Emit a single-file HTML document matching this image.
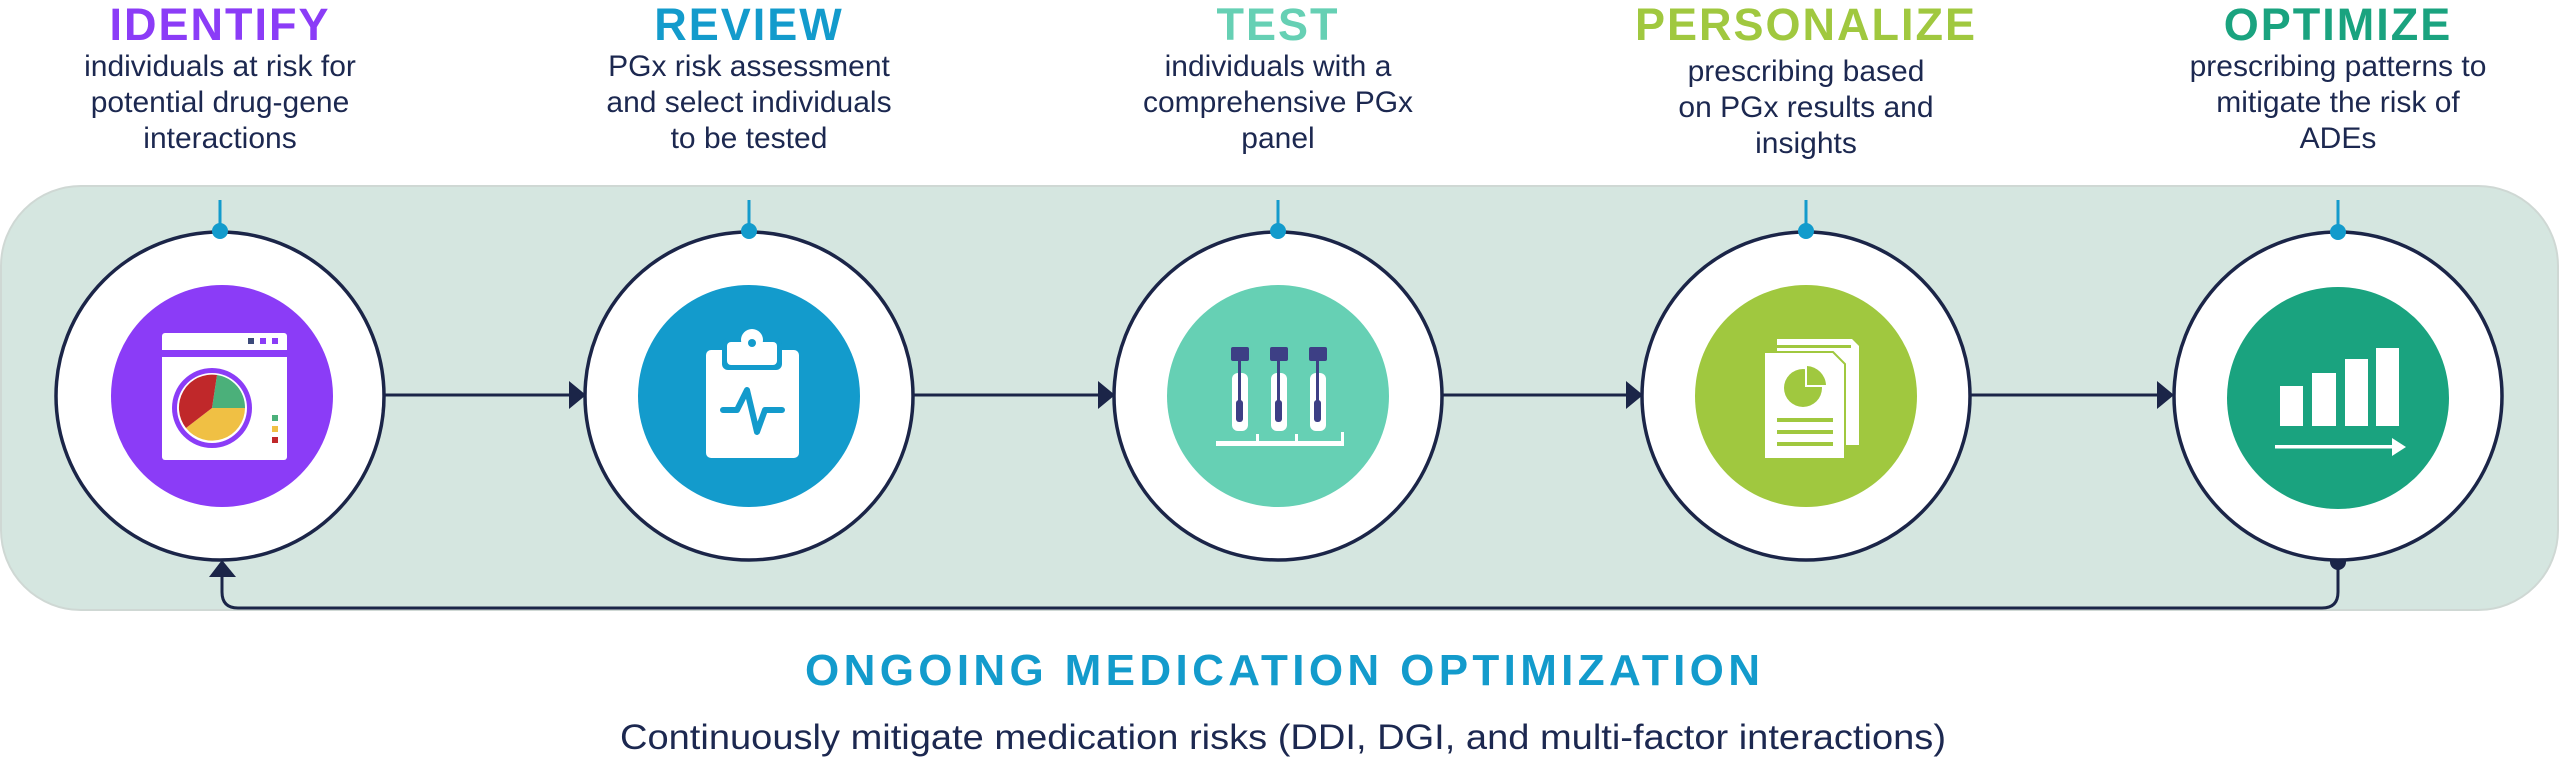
<!DOCTYPE html>
<html><head><meta charset="utf-8"><style>
html,body{margin:0;padding:0;background:#fff;}
svg{display:block}
text{font-family:"Liberation Sans",sans-serif}
.t{font-weight:bold;font-size:45px;letter-spacing:2px;text-anchor:middle}
.s{font-size:30px;fill:#1c2850;text-anchor:middle}
</style></head><body>
<svg width="2560" height="759" viewBox="0 0 2560 759" xmlns="http://www.w3.org/2000/svg">
<rect x="1" y="186" width="2557" height="424" rx="80" fill="#d5e6e0" stroke="#cfd8d4" stroke-width="2"/>
<text class="t" x="220" y="40" fill="#8b3cf7">IDENTIFY</text>
<text class="s" x="220" y="76">individuals at risk for</text>
<text class="s" x="220" y="112">potential drug-gene</text>
<text class="s" x="220" y="148">interactions</text>
<text class="t" x="749" y="40" fill="#139bcc">REVIEW</text>
<text class="s" x="749" y="76">PGx risk assessment</text>
<text class="s" x="749" y="112">and select individuals</text>
<text class="s" x="749" y="148">to be tested</text>
<text class="t" x="1278" y="40" fill="#66d0b4">TEST</text>
<text class="s" x="1278" y="76">individuals with a</text>
<text class="s" x="1278" y="112">comprehensive PGx</text>
<text class="s" x="1278" y="148">panel</text>
<text class="t" x="1806" y="40" fill="#a0c83f">PERSONALIZE</text>
<text class="s" x="1806" y="81">prescribing based</text>
<text class="s" x="1806" y="117">on PGx results and</text>
<text class="s" x="1806" y="153">insights</text>
<text class="t" x="2338" y="40" fill="#1aa37f">OPTIMIZE</text>
<text class="s" x="2338" y="76">prescribing patterns to</text>
<text class="s" x="2338" y="112">mitigate the risk of</text>
<text class="s" x="2338" y="148">ADEs</text>
<g stroke="#1b2548" stroke-width="3" fill="none">
<line x1="385" y1="395" x2="575" y2="395"/>
<line x1="914" y1="395" x2="1104" y2="395"/>
<line x1="1443" y1="395" x2="1632" y2="395"/>
<line x1="1971" y1="395" x2="2164" y2="395"/>
<path d="M2338 562 V592 Q2338 608 2322 608 H238 Q222 608 222 592 V572"/>
</g>
<g fill="#1b2548">
<polygon points="569,381 586,395 569,409"/>
<polygon points="1098,381 1115,395 1098,409"/>
<polygon points="1626,381 1643,395 1626,409"/>
<polygon points="2157,381 2174,395 2157,409"/>
<polygon points="209,577 236,577 222,560"/>
<circle cx="2338" cy="562" r="8"/>
</g>
<g stroke="#1b2548" stroke-width="3.5" fill="#fff">
<circle cx="220" cy="396" r="164"/>
<circle cx="749" cy="396" r="164"/>
<circle cx="1278" cy="396" r="164"/>
<circle cx="1806" cy="396" r="164"/>
<circle cx="2338" cy="396" r="164"/>
</g>
<g stroke="#139bcc" stroke-width="3"><line x1="220" y1="200" x2="220" y2="230"/><line x1="749" y1="200" x2="749" y2="230"/><line x1="1278" y1="200" x2="1278" y2="230"/><line x1="1806" y1="200" x2="1806" y2="230"/><line x1="2338" y1="200" x2="2338" y2="230"/></g>
<g fill="#139bcc"><circle cx="220" cy="231" r="8"/><circle cx="749" cy="231" r="8"/><circle cx="1278" cy="231" r="8"/><circle cx="1806" cy="231" r="8"/><circle cx="2338" cy="232" r="8"/></g>
<circle cx="222" cy="396" r="111" fill="#8b3cf7"/>
<circle cx="749" cy="396" r="111" fill="#139bcc"/>
<circle cx="1278" cy="396" r="111" fill="#66d0b4"/>
<circle cx="1806" cy="396" r="111" fill="#a0c83f"/>
<circle cx="2338" cy="398" r="111" fill="#1aa37f"/>
<rect x="162" y="333" width="125" height="127" rx="3" fill="#fff"/>
<rect x="162" y="350" width="125" height="7" fill="#8b3cf7"/>
<rect x="248" y="338" width="6" height="6" fill="#3c4a7a"/><rect x="260" y="338" width="6" height="6" fill="#8b3cf7"/><rect x="272" y="338" width="6" height="6" fill="#8b3cf7"/>
<circle cx="212" cy="408" r="40" fill="#8b3cf7"/>
<circle cx="212" cy="408" r="35" fill="#fff"/>
<path d="M212 408 L217 375 A33 33 0 0 1 245 408 Z" fill="#4bb07a"/>
<path d="M212 408 L245 408 A33 33 0 0 1 186 428 Z" fill="#f0c044"/>
<path d="M212 408 L186 428 A33 33 0 0 1 217 375 Z" fill="#c0282a"/>
<rect x="272" y="415" width="6" height="6" fill="#4bb07a"/><rect x="272" y="426" width="6" height="6" fill="#f0c044"/><rect x="272" y="437" width="6" height="6" fill="#c0282a"/>
<rect x="706" y="350" width="93" height="108" rx="5" fill="#fff"/>
<rect x="722" y="338" width="60" height="32" rx="6" fill="#139bcc"/>
<rect x="727" y="342" width="50" height="23" rx="4" fill="#fff"/>
<circle cx="752" cy="340" r="11" fill="#fff"/>
<circle cx="752" cy="343" r="4" fill="#139bcc"/>
<polyline points="723,410 737,410 747,390 757,432 765,410 782,410" fill="none" stroke="#139bcc" stroke-width="6" stroke-linecap="round" stroke-linejoin="round"/>
<g fill="#fff"><rect x="1232" y="373" width="16" height="58" rx="6"/><rect x="1271" y="373" width="16" height="58" rx="6"/><rect x="1310" y="373" width="16" height="58" rx="6"/>
<rect x="1216" y="441" width="128" height="5"/><rect x="1256" y="434" width="3" height="9"/><rect x="1295" y="434" width="3" height="9"/><rect x="1341" y="432" width="3" height="12"/></g>
<g fill="#3d3f85"><rect x="1231" y="347" width="18" height="14" rx="2"/><rect x="1270" y="347" width="18" height="14" rx="2"/><rect x="1309" y="347" width="18" height="14" rx="2"/>
<rect x="1238" y="360" width="3" height="50"/><rect x="1277" y="360" width="3" height="50"/><rect x="1316" y="360" width="3" height="50"/>
<rect x="1236" y="400" width="7" height="22" rx="3"/><rect x="1275" y="400" width="7" height="22" rx="3"/><rect x="1314" y="400" width="7" height="22" rx="3"/></g>
<path d="M1777 339 H1852 L1859 346 V445 H1777 Z" fill="#fff"/>
<rect x="1771" y="345" width="80" height="3" fill="#a0c83f"/>
<path d="M1764 352 H1833 L1845 364 V459 H1764 Z" fill="#fff" stroke="#a0c83f" stroke-width="2"/>
<circle cx="1803" cy="388" r="19" fill="#a0c83f"/>
<path d="M1805 367 A20 20 0 0 1 1825 387 H1805 Z" fill="#fff"/>
<path d="M1807 366 A20 20 0 0 1 1826 385 H1807 Z" fill="#a0c83f"/>
<g fill="#a0c83f"><rect x="1777" y="418" width="56" height="4"/><rect x="1777" y="430" width="56" height="4"/><rect x="1777" y="442" width="56" height="4"/></g>
<g fill="#fff"><rect x="2280" y="386" width="23" height="40"/><rect x="2312" y="373" width="24" height="53"/><rect x="2345" y="359" width="23" height="67"/><rect x="2376" y="348" width="23" height="78"/>
<rect x="2275" y="445" width="122" height="3.5"/><polygon points="2392,438 2406,447 2392,456"/></g>
<text x="805" y="685" font-size="44" font-weight="bold" textLength="955" lengthAdjust="spacing" fill="#139bcc">ONGOING MEDICATION OPTIMIZATION</text>
<text x="620" y="749" font-size="35" textLength="1326" lengthAdjust="spacingAndGlyphs" fill="#1c2850">Continuously mitigate medication risks (DDI, DGI, and multi-factor interactions)</text>
</svg>
</body></html>
